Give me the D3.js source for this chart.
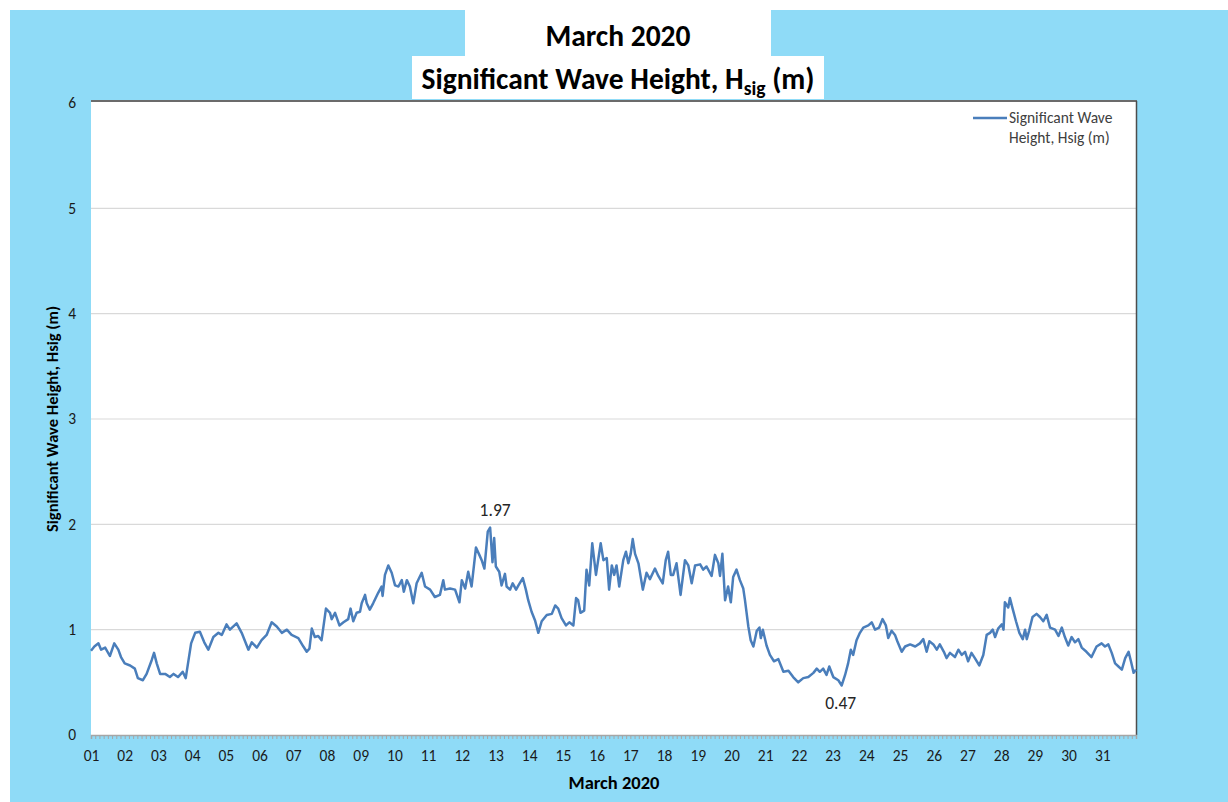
<!DOCTYPE html>
<html><head><meta charset="utf-8">
<script src="https://cdn.jsdelivr.net/npm/d3@7/dist/d3.min.js"></script>
<style>
body{margin:0;background:#ffffff;}
svg{display:block;}
text{font-family:Carlito, Lato, "Open Sans", sans-serif;}
</style>
</head><body>
<svg id="chart" width="1228" height="802"></svg>
<script>
// ---- DATA (days since 2020-03-01 00:00, significant wave height in m) ----
const dayOffsets = [
 0.00,0.10,0.22,0.30,0.42,0.56,0.69,0.81,0.89,1.00,1.16,1.30,1.39,1.54,1.65,1.80,1.87,1.95,
 2.05,2.20,2.34,2.45,2.58,2.72,2.81,2.97,3.09,3.23,3.36,3.48,3.63,3.78,3.88,
 4.02,4.12,4.32,4.47,4.67,4.77,4.92,5.06,5.21,5.36,5.51,5.66,5.81,5.95,
 6.15,6.30,6.40,6.48,6.55,6.64,6.74,6.84,6.97,7.09,7.14,7.24,7.37,7.49,7.63,7.70,7.78,7.88,7.98,
 8.03,8.13,8.18,8.27,8.37,8.52,8.62,8.65,8.72,8.82,8.92,9.02,9.12,9.22,9.28,9.37,9.46,9.56,9.66,9.81,9.91,
 10.06,10.20,10.35,10.45,10.50,10.65,10.80,10.93,11.00,11.10,11.19,11.29,11.34,11.42,11.52,11.59,11.67,11.77,11.84,11.91,11.96,
 12.01,12.11,12.18,12.28,12.33,12.43,12.51,12.61,12.68,12.81,12.90,12.97,13.07,13.17,13.27,13.37,13.52,13.67,13.77,13.86,13.96,
 14.09,14.19,14.31,14.39,14.45,14.52,14.63,14.70,14.78,14.87,14.98,15.12,15.20,15.30,15.37,15.45,15.52,15.59,15.67,15.79,15.87,15.94,
 16.01,16.07,16.14,16.24,16.37,16.48,16.58,16.73,16.83,16.96,17.05,17.12,17.20,17.27,17.37,17.49,17.62,17.72,17.82,17.92,
 18.07,18.16,18.26,18.41,18.51,18.61,18.66,18.73,18.81,18.90,18.98,19.05,19.15,19.25,19.35,19.40,19.50,19.57,19.65,19.75,19.83,19.87,19.93,
 20.04,20.14,20.26,20.39,20.54,20.69,20.83,20.98,21.13,21.28,21.43,21.53,21.62,21.72,21.82,21.90,
 22.02,22.17,22.27,22.37,22.46,22.54,22.61,22.71,22.81,22.91,23.06,23.16,23.26,23.38,23.48,23.58,23.65,23.75,23.85,23.92,
 24.05,24.15,24.30,24.45,24.59,24.69,24.79,24.87,24.99,25.09,25.18,25.30,25.38,25.48,25.63,25.73,25.83,25.93,
 26.02,26.12,26.22,26.35,26.47,26.57,26.67,26.75,26.82,26.91,27.02,27.07,27.11,27.21,27.26,27.34,27.44,27.54,27.64,27.71,27.76,27.83,27.93,
 28.05,28.15,28.25,28.35,28.45,28.60,28.70,28.80,28.89,28.99,29.09,29.19,29.29,29.39,29.53,29.68,29.83,29.98,
 30.08,30.18,30.28,30.38,30.48,30.58,30.68,30.78,30.85,30.93,31.00
];
const hsig = [
 0.80,0.84,0.87,0.81,0.83,0.75,0.87,0.81,0.74,0.68,0.66,0.63,0.54,0.52,0.58,0.71,0.78,0.68,
 0.58,0.58,0.55,0.58,0.55,0.60,0.54,0.87,0.97,0.98,0.88,0.81,0.93,0.97,0.95,
 1.05,1.00,1.06,0.97,0.81,0.88,0.83,0.90,0.95,1.07,1.03,0.97,1.00,0.95,
 0.92,0.84,0.79,0.82,1.01,0.93,0.94,0.90,1.20,1.16,1.10,1.16,1.04,1.07,1.10,1.20,1.08,1.16,1.17,
 1.25,1.33,1.25,1.19,1.25,1.35,1.41,1.32,1.52,1.61,1.54,1.42,1.41,1.47,1.36,1.47,1.41,1.25,1.44,1.54,1.41,
 1.38,1.31,1.33,1.47,1.38,1.39,1.38,1.26,1.47,1.39,1.55,1.41,1.55,1.78,1.71,1.66,1.58,1.93,1.97,1.64,1.87,
 1.60,1.55,1.42,1.53,1.41,1.38,1.44,1.38,1.42,1.49,1.38,1.28,1.17,1.09,0.97,1.08,1.14,1.15,1.23,1.20,1.11,
 1.04,1.07,1.04,1.30,1.28,1.16,1.18,1.57,1.42,1.82,1.52,1.82,1.66,1.68,1.38,1.61,1.52,1.61,1.41,1.66,1.74,1.63,
 1.72,1.86,1.72,1.63,1.38,1.54,1.48,1.58,1.51,1.44,1.66,1.74,1.52,1.52,1.63,1.33,1.66,1.61,1.44,1.61,
 1.62,1.57,1.60,1.51,1.71,1.63,1.51,1.72,1.28,1.41,1.26,1.50,1.57,1.47,1.39,1.28,1.03,0.90,0.84,0.99,1.02,0.92,1.00,
 0.85,0.76,0.70,0.72,0.60,0.61,0.55,0.50,0.54,0.55,0.59,0.63,0.60,0.63,0.57,0.65,
 0.55,0.52,0.47,0.57,0.68,0.81,0.76,0.90,0.97,1.02,1.04,1.07,1.00,1.02,1.10,1.04,0.92,0.99,0.95,0.89,
 0.79,0.84,0.86,0.84,0.87,0.91,0.79,0.89,0.86,0.81,0.86,0.79,0.73,0.78,0.74,0.81,0.76,0.79,
 0.70,0.78,0.73,0.66,0.76,0.95,0.97,1.00,0.93,1.01,1.05,1.00,1.26,1.21,1.30,1.20,1.08,0.97,0.91,1.00,0.91,0.99,1.12,
 1.15,1.12,1.08,1.14,1.02,1.00,0.94,1.02,0.93,0.85,0.93,0.88,0.91,0.83,0.79,0.74,0.84,0.87,
 0.84,0.86,0.78,0.68,0.65,0.62,0.73,0.79,0.70,0.59,0.62
];
const dayLabels = ["01","02","03","04","05","06","07","08","09","10","11","12","13","14","15","16",
                   "17","18","19","20","21","22","23","24","25","26","27","28","29","30","31"];
const yTicks = [0,1,2,3,4,5,6];
const titleLine1 = "March 2020";
const xTitle = "March 2020";
const yTitle = "Significant Wave Height, Hsig (m)";
const legendLines = ["Significant Wave", "Height, Hsig (m)"];

// ---- DRAWING ----
const svg = d3.select("#chart");
const W = 1228, H = 802;
const FONT = "Carlito, Lato, 'Open Sans', sans-serif";
const plot = {left: 91, right: 1136, top: 103, bottom: 735};
const start = new Date(2020, 2, 1, 0, 0);
const end = new Date(2020, 3, 1, 0, 0);
const toDate = d => new Date(start.getTime() + d * 86400000);
const data = dayOffsets.map((d, i) => ({t: toDate(d), v: hsig[i]}));

const x = d3.scaleTime().domain([start, end]).range([plot.left, plot.right]);
const y = d3.scaleLinear().domain([0, 6]).range([plot.bottom, plot.top]);

const BLUE_BG = "#8fdbf7";
svg.append("rect").attr("x", 10).attr("y", 10).attr("width", W - 10).attr("height", H - 10).attr("fill", BLUE_BG);

// plot area
svg.append("rect").attr("x", plot.left).attr("y", plot.top - 2)
  .attr("width", plot.right - plot.left).attr("height", plot.bottom - plot.top + 2)
  .attr("fill", "#ffffff");

// gridlines
svg.append("g").selectAll("line").data(yTicks.filter(d => d > 0 && d < 6)).join("line")
  .attr("x1", plot.left).attr("x2", plot.right)
  .attr("y1", d => y(d)).attr("y2", d => y(d))
  .attr("stroke", "#d9d9d9").attr("stroke-width", 1.2);

// plot border (top & right dark)
svg.append("line").attr("x1", plot.left).attr("x2", plot.right + 1).attr("y1", plot.top - 2).attr("y2", plot.top - 2)
  .attr("stroke", "#6b6b6b").attr("stroke-width", 2);
svg.append("line").attr("x1", plot.right + 0.5).attr("x2", plot.right + 0.5).attr("y1", plot.top - 2).attr("y2", plot.bottom)
  .attr("stroke", "#4d4d4d").attr("stroke-width", 1.5);

// y axis labels
const yAxis = d3.axisLeft(y).tickValues(yTicks).tickSize(0).tickPadding(15).tickFormat(d3.format("d"));
const gy = svg.append("g").attr("transform", `translate(${plot.left},0)`).call(yAxis);
gy.select(".domain").remove();
gy.selectAll("text").attr("font-size", 15.5).attr("fill", "#1a1a1a").style("font-family", FONT);

// x axis: minor ticks every 3 hours
const gx = svg.append("g").attr("transform", `translate(0,${plot.bottom})`)
  .call(d3.axisBottom(x).ticks(d3.timeHour.every(3)).tickSize(4).tickFormat(""));
gx.select(".domain").attr("stroke", "#a6a6a6").attr("stroke-width", 1.5);
gx.selectAll(".tick line").attr("stroke", "#a6a6a6");

// day labels
const dayTicks = d3.timeDay.range(start, end);
const gxl = svg.append("g").attr("transform", `translate(0,${plot.bottom})`)
  .call(d3.axisBottom(x).tickValues(dayTicks).tickSize(0).tickPadding(15)
    .tickFormat((d, i) => dayLabels[i]));
gxl.select(".domain").remove();
gxl.selectAll("text").attr("font-size", 15.5).attr("fill", "#1a1a1a").style("font-family", FONT);

// line
const line = d3.line().x(d => x(d.t)).y(d => y(d.v)).curve(d3.curveLinear);
svg.append("path").datum(data).attr("d", line)
  .attr("fill", "none").attr("stroke", "#4a7ebb").attr("stroke-width", 2.5)
  .attr("stroke-linejoin", "round");

// max / min labels
const maxD = data.reduce((a, b) => b.v > a.v ? b : a);
const minD = data.reduce((a, b) => b.v < a.v ? b : a);
svg.append("text").attr("x", x(maxD.t) + 5).attr("y", y(maxD.v) - 11)
  .attr("text-anchor", "middle").attr("font-size", 17.5).attr("fill", "#262626")
  .text(d3.format(".2f")(maxD.v));
svg.append("text").attr("x", x(minD.t) - 1).attr("y", y(minD.v) + 24)
  .attr("text-anchor", "middle").attr("font-size", 17.5).attr("fill", "#262626")
  .text(d3.format(".2f")(minD.v));

// titles
svg.append("rect").attr("x", 465).attr("y", 10).attr("width", 306).attr("height", 47).attr("fill", "#ffffff");
svg.append("rect").attr("x", 412).attr("y", 56).attr("width", 412).attr("height", 43).attr("fill", "#ffffff");
svg.append("text").attr("x", 618).attr("y", 46).attr("text-anchor", "middle")
  .attr("font-size", 29.5).attr("font-weight", "bold").attr("fill", "#000").text(titleLine1);
const t2 = svg.append("text").attr("x", 618).attr("y", 89).attr("text-anchor", "middle")
  .attr("font-size", 29.5).attr("font-weight", "bold").attr("fill", "#000");
t2.append("tspan").text("Significant Wave Height, H");
t2.append("tspan").attr("font-size", 19.5).attr("dy", 6).text("sig");
t2.append("tspan").attr("dy", -6).text(" (m)");

// axis titles
svg.append("text").attr("x", 614).attr("y", 789).attr("text-anchor", "middle")
  .attr("font-size", 18.5).attr("font-weight", "bold").attr("fill", "#000").text(xTitle);
svg.append("text").attr("transform", `translate(58,${(plot.top + plot.bottom) / 2}) rotate(-90)`)
  .attr("text-anchor", "middle").attr("font-size", 16.5).attr("font-weight", "bold").attr("fill", "#000").text(yTitle);

// legend
svg.append("line").attr("x1", 973).attr("x2", 1007).attr("y1", 118).attr("y2", 118)
  .attr("stroke", "#4a7ebb").attr("stroke-width", 2.5);
svg.append("g").selectAll("text").data(legendLines).join("text")
  .attr("x", 1009).attr("y", (d, i) => 123 + i * 20)
  .attr("font-size", 15.5).attr("fill", "#404040").text(d => d);
</script>
</body></html>
